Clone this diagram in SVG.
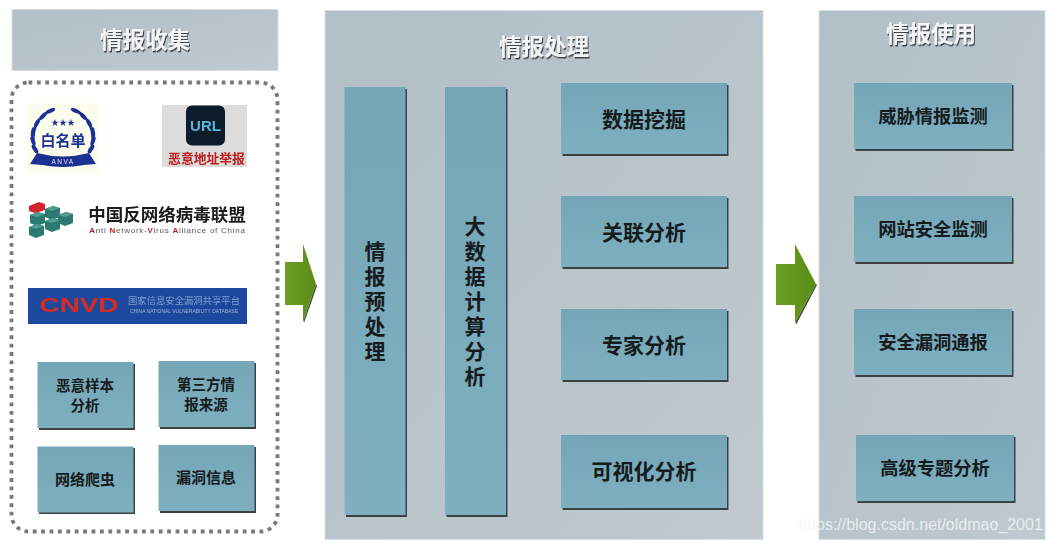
<svg xmlns="http://www.w3.org/2000/svg" width="1050" height="543" viewBox="0 0 1050 543">
<defs>
<linearGradient id="pg" x1="0" y1="0" x2="1" y2="1"><stop offset="0" stop-color="#b2bfc7"/><stop offset="1" stop-color="#bfc9cf"/></linearGradient>
<linearGradient id="bg" x1="0" y1="0" x2="0" y2="1"><stop offset="0" stop-color="#74a6b7"/><stop offset="1" stop-color="#7fb0c0"/></linearGradient>
<linearGradient id="ar" x1="0" y1="0" x2="1" y2="0"><stop offset="0" stop-color="#6c9f22"/><stop offset="1" stop-color="#5a8c18"/></linearGradient>
<filter id="soft" x="-5%" y="-5%" width="110%" height="110%"><feGaussianBlur stdDeviation="0.4"/></filter>
<filter id="tsh" x="-10%" y="-20%" width="120%" height="140%"><feDropShadow dx="1" dy="1.500" stdDeviation="0.600" flood-color="#3b4146"/></filter>
<g id="brick"><path d="M0 3l8-3 7 2v9l-8 3-7-3Z" fill="#2a7a72"/><path d="M0 3l8-3 7 2-8 3Z" fill="#4f9c92"/></g>
</defs>
<style>
text{font-family:"Noto Sans CJK SC","Liberation Sans",sans-serif;text-anchor:middle}
.panel{fill:url(#pg);stroke:#d5dde0;stroke-width:1}
.box{fill:url(#bg)}
.sh{fill:#3c4244}
.t{font-weight:700;fill:#161b1d}
.v{writing-mode:vertical-rl;letter-spacing:4px;font-size:21px}
.h{font-weight:700;fill:#f4f6f6;font-size:22.500px;filter:url(#tsh)}
.en{font-family:"Liberation Sans",Arial,sans-serif}
.leaf{fill:#1f3192}
</style>
<rect width="1050" height="543" fill="#fff"/>

<g id="collect-panel">
<rect class="panel" x="12" y="9.500" width="266" height="61"/>
<text class="h" x="145" y="48">情报收集</text>
</g>
<g id="collect-frame">
<rect x="11.500" y="82.500" width="266" height="449" rx="17" fill="none" stroke="#77797a" stroke-width="3.800" stroke-dasharray="3.800 4.600"/>
</g>

<g id="logo-anva" filter="url(#soft)">
<rect x="27" y="103" width="72" height="70" fill="#fdfdee"/>
<path d="M55 109C38 113 29 132 36 153" fill="none" stroke="#1f3192" stroke-width="2"/>
<path d="M71 109C88 113 97 132 90 153" fill="none" stroke="#1f3192" stroke-width="2"/>
<g class="leaf">
<ellipse cx="50" cy="111" rx="5" ry="2" transform="rotate(-25 50 111)"/><ellipse cx="43" cy="116" rx="5" ry="2" transform="rotate(-45 43 116)"/><ellipse cx="37" cy="123" rx="5" ry="2" transform="rotate(-60 37 123)"/><ellipse cx="33" cy="132" rx="5" ry="2" transform="rotate(-80 33 132)"/><ellipse cx="33" cy="141" rx="5" ry="2" transform="rotate(70 33 141)"/><ellipse cx="35" cy="149" rx="5" ry="2" transform="rotate(55 35 149)"/>
<ellipse cx="76" cy="111" rx="5" ry="2" transform="rotate(25 76 111)"/><ellipse cx="83" cy="116" rx="5" ry="2" transform="rotate(45 83 116)"/><ellipse cx="89" cy="123" rx="5" ry="2" transform="rotate(60 89 123)"/><ellipse cx="93" cy="132" rx="5" ry="2" transform="rotate(80 93 132)"/><ellipse cx="93" cy="141" rx="5" ry="2" transform="rotate(-70 93 141)"/><ellipse cx="91" cy="149" rx="5" ry="2" transform="rotate(-55 91 149)"/>
</g>
<text x="63" y="125" font-size="8" fill="#1f3192">★★★</text>
<text x="63" y="146" font-size="15" font-weight="700" fill="#1f3192">白名单</text>
<path d="M30 164L37 153Q63 160 89 153L96 164L84 165Q63 169 42 165Z" fill="#1f3192"/>
<text class="en" x="63" y="164" font-size="6.500" letter-spacing="1.500" fill="#dfe3f2">ANVA</text>
</g>
<g id="logo-url" filter="url(#soft)">
<rect x="162" y="105" width="85" height="62" fill="#dcdcdc"/>
<rect x="186" y="105.500" width="39" height="40" rx="6" fill="#0f1c2c"/>
<text class="en" x="205.500" y="131" font-size="15" font-weight="700" fill="#5db3d6">URL</text>
<text x="206.500" y="163" font-size="12.800" font-weight="700" fill="#c11a1a">恶意地址举报</text>
</g>
<g id="logo-antivirus" filter="url(#soft)">
<path d="M29 206l10-4 6 2v6l-10 3-6-2Z" fill="#d8222a"/>
<use href="#brick" x="45" y="206"/><use href="#brick" x="30" y="212"/><use href="#brick" x="58" y="212"/><use href="#brick" x="45" y="218"/><use href="#brick" x="29" y="224"/>
<text x="167" y="221" font-size="17.500" font-weight="700" fill="#1b1b1b">中国反网络病毒联盟</text>
<text class="en" x="167.500" y="233" font-size="8" letter-spacing="0.750" fill="#555"><tspan fill="#c0181c" font-weight="700">A</tspan>nti <tspan fill="#c0181c" font-weight="700">N</tspan>etwork-<tspan fill="#c0181c" font-weight="700">V</tspan>irus <tspan fill="#c0181c" font-weight="700">A</tspan>lliance of China</text>
</g>
<g id="logo-cnvd" filter="url(#soft)">
<rect x="28" y="288" width="219" height="36" fill="#1c4a9e"/>
<text class="en" x="79" y="312" font-size="21" font-weight="700" textLength="79" lengthAdjust="spacingAndGlyphs" fill="#d92a22">CNVD</text>
<text x="184" y="304" font-size="9.500" fill="#7f9fcb" textLength="112" lengthAdjust="spacingAndGlyphs">国家信息安全漏洞共享平台</text>
<text class="en" x="184" y="313" font-size="5" fill="#9db5d8" textLength="108" lengthAdjust="spacingAndGlyphs">CHINA NATIONAL VULNERABILITY DATABASE</text>
</g>

<g id="box-malware"><rect class="sh" x="39" y="364" width="96" height="66"/><rect class="box" x="37.500" y="362" width="96" height="66"/><text class="t" font-size="14.500"><tspan x="85" y="391">恶意样本</tspan><tspan x="85" y="411">分析</tspan></text></g>
<g id="box-third"><rect class="sh" x="160" y="363" width="96" height="66"/><rect class="box" x="158.500" y="361" width="96" height="66"/><text class="t" font-size="14.500"><tspan x="206" y="390">第三方情</tspan><tspan x="206" y="410">报来源</tspan></text></g>
<g id="box-crawler"><rect class="sh" x="39" y="448" width="96" height="66"/><rect class="box" x="37.500" y="446.500" width="96" height="66"/><text class="t" x="85" y="485" font-size="15">网络爬虫</text></g>
<g id="box-vuln"><rect class="sh" x="160" y="447" width="96" height="66"/><rect class="box" x="158.500" y="445" width="96" height="66"/><text class="t" x="206" y="483" font-size="15">漏洞信息</text></g>

<g id="connectors">
<path d="M286 305h18v18l13-37-1-2-13 38v-17Z" fill="#444a3c"/>
<path d="M285 262h18v-18l13 40-13 38v-17h-18Z" fill="url(#ar)"/>
<path d="M777 306h19v19l21-40-1-1-21 39v-17Z" fill="#444a3c"/>
<path d="M776 264h19v-20l21 40-21 39v-18h-19Z" fill="url(#ar)"/>
</g>

<g id="process-panel">
<rect class="panel" x="325" y="10.500" width="438" height="529"/>
<text class="h" x="544" y="55">情报处理</text>
</g>
<g id="box-pre"><rect class="sh" x="346" y="89" width="61" height="428"/><rect class="box" x="344.500" y="87" width="61" height="428"/>
<text class="t v" x="375" y="303">情报预处理</text></g>
<g id="box-bigdata"><rect class="sh" x="446.500" y="89" width="61" height="428"/><rect class="box" x="445" y="87" width="61" height="428"/>
<text class="t v" x="475" y="303">大数据计算分析</text></g>
<g id="box-mining"><rect class="sh" x="562.500" y="85" width="166" height="71"/><rect class="box" x="561" y="83" width="166" height="71"/><text class="t" x="644" y="126.500" font-size="21">数据挖掘</text></g>
<g id="box-corr"><rect class="sh" x="562.500" y="198" width="166" height="71"/><rect class="box" x="561" y="196" width="166" height="71"/><text class="t" x="644" y="239.500" font-size="21">关联分析</text></g>
<g id="box-expert"><rect class="sh" x="562.500" y="311" width="166" height="71"/><rect class="box" x="561" y="309" width="166" height="71"/><text class="t" x="644" y="352.500" font-size="21">专家分析</text></g>
<g id="box-vis"><rect class="sh" x="562.500" y="437" width="166" height="73"/><rect class="box" x="561" y="435" width="166" height="73"/><text class="t" x="644" y="479" font-size="21">可视化分析</text></g>

<g id="use-panel">
<rect class="panel" x="819" y="10.500" width="226" height="529"/>
<text class="h" x="931" y="42">情报使用</text>
</g>
<g id="box-threat"><rect class="sh" x="855.500" y="85" width="158" height="66"/><rect class="box" x="854" y="83" width="158" height="66"/><text class="t" x="933" y="123" font-size="18.300">威胁情报监测</text></g>
<g id="box-site"><rect class="sh" x="855.500" y="198" width="158" height="66"/><rect class="box" x="854" y="196" width="158" height="66"/><text class="t" x="933" y="236" font-size="18.300">网站安全监测</text></g>
<g id="box-notify"><rect class="sh" x="855.500" y="311" width="158" height="66"/><rect class="box" x="854" y="309" width="158" height="66"/><text class="t" x="933" y="349" font-size="18.300">安全漏洞通报</text></g>
<g id="box-topic"><rect class="sh" x="857.500" y="437" width="158" height="66"/><rect class="box" x="856" y="435" width="158" height="66"/><text class="t" x="935" y="475" font-size="18.300">高级专题分析</text></g>
<g id="watermark"><text class="en" x="920.500" y="530" font-size="16" fill="#f2f4f5" fill-opacity=".85">https://blog.csdn.net/oldmao_2001</text></g>
</svg>
